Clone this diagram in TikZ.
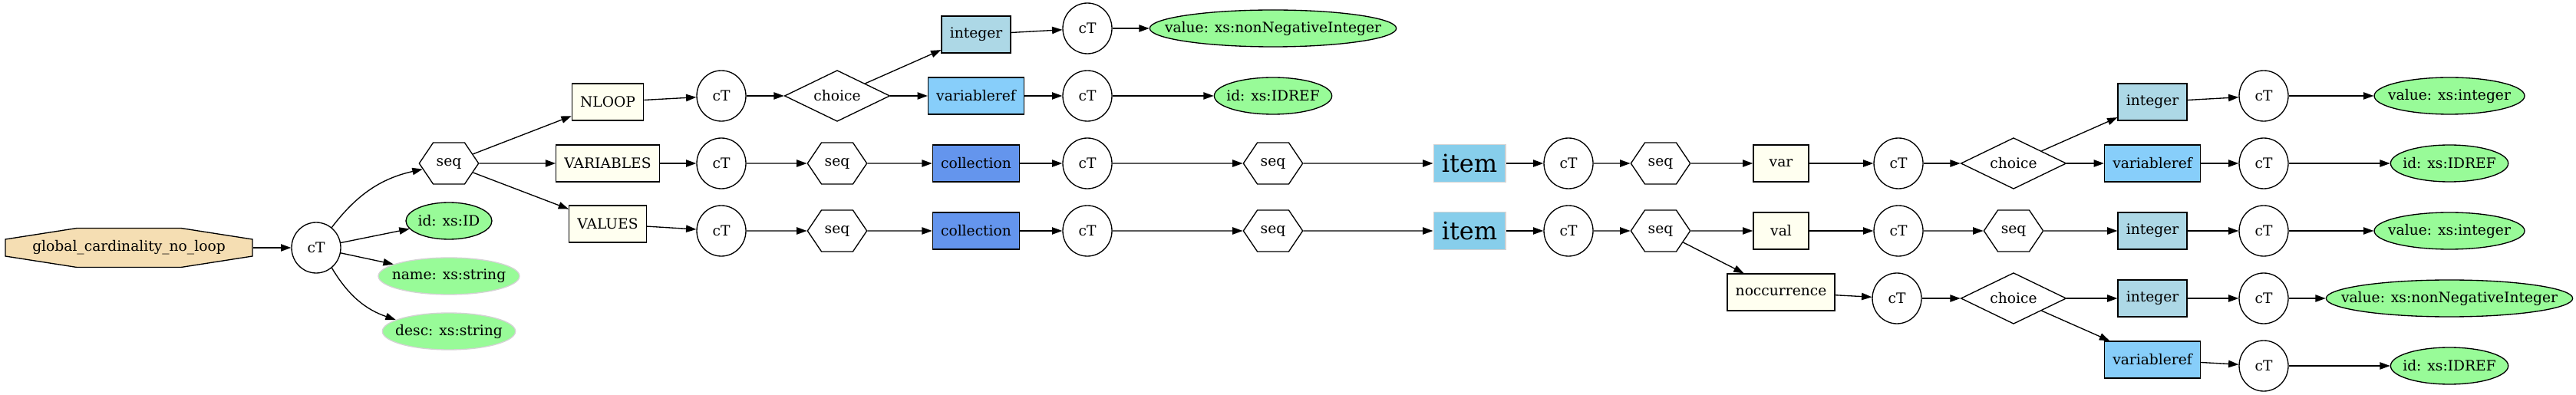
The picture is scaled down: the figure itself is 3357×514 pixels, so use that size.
\documentclass[tikz,border=0pt]{standalone}
\usepackage{fontspec}
\setmainfont{DejaVu Serif}
\usepackage{xcolor}
\usepackage{amsmath}
\usepackage{tikz}
\usetikzlibrary{shapes.geometric,shapes.symbols,arrows.meta}

\definecolor{wheat}{HTML}{F5DEB3}
\definecolor{palegreen}{HTML}{98FB98}
\definecolor{ivory}{HTML}{FFFFF0}
\definecolor{lightblue}{HTML}{ADD8E6}
\definecolor{lightskyblue}{HTML}{87CEFA}
\definecolor{cornflower}{HTML}{6495ED}
\definecolor{skyblue}{HTML}{87CEEB}
\definecolor{lightgrey}{HTML}{D3D3D3}
\newcommand{\zw}[1]{\makebox[0pt]{#1}}

\begin{document}
\begin{tikzpicture}[x=0.75pt,y=0.75pt,
							font=\fontsize{14pt}{16pt}\selectfont,
							every node/.style={draw,inner sep=0pt,line width=1pt},
							ct/.style={ellipse,minimum width=48pt,minimum height=49.5pt},
							seqhex/.style={signal,signal to=east and west,signal pointer angle=112,minimum width=58pt,minimum height=40.5pt},
							choicebox/.style={diamond,aspect=2,minimum width=103pt,minimum height=50pt},
							elem/.style={rectangle,fill=ivory,minimum width=54pt,minimum height=36pt,inner xsep=8pt},
							intbox/.style={elem,fill=lightblue},
							refbox/.style={elem,fill=lightskyblue},
							collbox/.style={elem,fill=cornflower},
							itembox/.style={elem,fill=skyblue,draw=lightgrey,minimum height=36.75pt,font=\fontsize{24pt}{28pt}\selectfont},
							attr/.style={ellipse,fill=palegreen,minimum height=36pt,minimum width=#1},
							opt/.style={attr=#1,draw=lightgrey},
							arr/.style={-{Triangle[length=10pt,width=7pt]},line width=1pt}]
			\useasboundingbox (0,0) rectangle (3357,514);
			% root
			\filldraw[fill=wheat,line width=1pt] (7,180) -- (7,202) -- (100,216.5) -- (236,216.5) -- (329,202) -- (329,180) -- (236,165.5) -- (100,165.5) -- cycle;
			\node[draw=none,minimum width=241.5pt,minimum height=38.25pt] (root) at (168,191) {global\_cardinality\_no\_loop};
			\node[ct] (ct0) at (412,191) {cT};
			\node[seqhex] (seqa) at (585,301) {seq};
			\node[attr=84pt] (ida) at (585,226) {\zw{id: xs:ID}};
			\node[opt=138pt] (namea) at (585,154) {\zw{name: xs:string}};
			\node[opt=130pt] (desca) at (585,82) {\zw{desc: xs:string}};
			% NLOOP, VARIABLES, VALUES
			\node[elem] (nloop) at (792,381) {NLOOP};
			\node[elem] (variables) at (792,301) {VARIABLES};
			\node[elem] (values) at (792,222) {VALUES};
			\node[ct] (ctb) at (940,389) {cT};
			\node[ct] (ctc) at (940,301) {cT};
			\node[ct] (ctd) at (940,213) {cT};
			\node[choicebox] (chb) at (1091,389) {choice};
			\node[seqhex] (seqc) at (1091,301) {seq};
			\node[seqhex] (seqd) at (1091,213) {seq};
			\node[intbox] (inta) at (1272,469) {integer};
			\node[refbox] (refb) at (1272,389) {variableref};
			\node[collbox] (collc) at (1272,301) {collection};
			\node[collbox] (colld) at (1272,213) {collection};
			\node[ct] (cta2) at (1417,477) {cT};
			\node[ct] (ctb2) at (1417,389) {cT};
			\node[ct] (ctc2) at (1417,301) {cT};
			\node[ct] (ctd2) at (1417,213) {cT};
			\node[attr=241pt] (vala) at (1659,477) {\zw{value: xs:nonNegativeInteger}};
			\node[attr=115pt] (idrefb) at (1659,389) {\zw{id: xs:IDREF}};
			\node[seqhex] (seqc2) at (1659,301) {seq};
			\node[seqhex] (seqd2) at (1659,213) {seq};
			% items
			\node[itembox] (itemc) at (1915,301) {item};
			\node[itembox] (itemd) at (1915,213) {item};
			\node[ct] (ctc3) at (2044,301) {cT};
			\node[ct] (ctd3) at (2044,213) {cT};
			\node[seqhex] (seqc3) at (2164,301) {seq};
			\node[seqhex] (seqd3) at (2164,213) {seq};
			\node[elem] (var) at (2321,301) {var};
			\node[elem] (val) at (2321,213) {val};
			\node[elem] (nocc) at (2321,133) {noccurrence};
			\node[ct] (ctc4) at (2474,301) {cT};
			\node[ct] (ctd4) at (2474,213) {cT};
			\node[ct] (cte4) at (2472,125) {cT};
			\node[choicebox] (chc) at (2624,301) {choice};
			\node[seqhex] (seqd4) at (2624,213) {seq};
			\node[choicebox] (che) at (2624,125) {choice};
			\node[intbox] (intb) at (2805,381) {integer};
			\node[refbox] (refc) at (2805,301) {variableref};
			\node[intbox] (intd) at (2805,213) {integer};
			\node[intbox] (inte) at (2805,125) {integer};
			\node[refbox] (reff) at (2805,45) {variableref};
			\node[ct] (ctb5) at (2950,389) {cT};
			\node[ct] (ctc5) at (2950,301) {cT};
			\node[ct] (ctd5) at (2950,213) {cT};
			\node[ct] (cte5) at (2950,125) {cT};
			\node[ct] (ctf5) at (2950,37) {cT};
			\node[attr=147pt] (valb) at (3192,389) {\zw{value: xs:integer}};
			\node[attr=115pt] (idrefc) at (3192,301) {\zw{id: xs:IDREF}};
			\node[attr=147pt] (vald) at (3192,213) {\zw{value: xs:integer}};
			\node[attr=241pt] (vale) at (3192,125) {\zw{value: xs:nonNegativeInteger}};
			\node[attr=115pt] (idreff) at (3192,37) {\zw{id: xs:IDREF}};
			% edges
			\draw[arr] (root) edge (ct0);
			\draw[arr] (ct0) edge[bend left=20] (seqa) edge (ida) edge (namea) edge[bend right=20] (desca);
			\draw[arr] (seqa) edge (nloop) edge (variables) edge (values);
			\draw[arr] (nloop) edge (ctb) (variables) edge (ctc) (values) edge (ctd);
			\draw[arr] (ctb) edge (chb) (ctc) edge (seqc) (ctd) edge (seqd);
			\draw[arr] (chb) edge (inta) edge (refb);
			\draw[arr] (seqc) edge (collc) (seqd) edge (colld);
			\draw[arr] (inta) edge (cta2) (refb) edge (ctb2) (collc) edge (ctc2) (colld) edge (ctd2);
			\draw[arr] (cta2) edge (vala) (ctb2) edge (idrefb) (ctc2) edge (seqc2) (ctd2) edge (seqd2);
			\draw[arr] (seqc2) edge (itemc) (seqd2) edge (itemd);
			\draw[arr] (itemc) edge (ctc3) (itemd) edge (ctd3);
			\draw[arr] (ctc3) edge (seqc3) (ctd3) edge (seqd3);
			\draw[arr] (seqc3) edge (var) (seqd3) edge (val) edge (nocc);
			\draw[arr] (var) edge (ctc4) (val) edge (ctd4) (nocc) edge (cte4);
			\draw[arr] (ctc4) edge (chc) (ctd4) edge (seqd4) (cte4) edge (che);
			\draw[arr] (chc) edge (intb) edge (refc);
			\draw[arr] (seqd4) edge (intd);
			\draw[arr] (che) edge (inte) edge (reff);
			\draw[arr] (intb) edge (ctb5) (refc) edge (ctc5) (intd) edge (ctd5) (inte) edge (cte5) (reff) edge (ctf5);
			\draw[arr] (ctb5) edge (valb) (ctc5) edge (idrefc) (ctd5) edge (vald) (cte5) edge (vale) (ctf5) edge (idreff);
		\end{tikzpicture}
\end{document}
